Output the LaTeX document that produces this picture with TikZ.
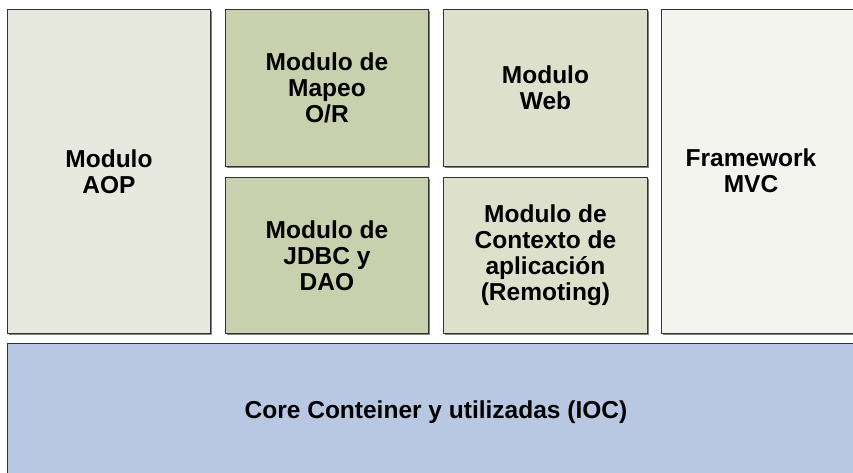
\documentclass[tikz,border=0pt]{standalone}
\usepackage{fontspec}
\setmainfont{Liberation Sans}
\begin{document}
\begin{tikzpicture}[x=1pt,y=-1pt,
  txt/.style={align=center,font=\fontsize{24.5}{26}\selectfont\bfseries,inner sep=0pt},
  blk/.style={txt,draw=black!80,line width=0.9pt}]
\definecolor{cAOP}{HTML}{E8E9DE}
\definecolor{cOR}{HTML}{C9D0AD}
\definecolor{cWeb}{HTML}{DDE0CB}
\definecolor{cMVC}{HTML}{F2F4ED}
\definecolor{cCore}{HTML}{B8C8E2}
\useasboundingbox (0,0) rectangle (853,472);
\clip (0,0) rectangle (853,472);
\fill[white] (0,0) rectangle (853,472);
% shadows
\foreach \a/\b/\c/\d in {7/9/210/333, 225/9/428/166, 225/177/428/333, 443/9/647/166, 443/177/647/333, 661/9/870/333, 7/343/870/490}
  \fill[black!50] (\a+1.5,\b+1.5) rectangle (\c+1.5,\d+1.5);
\node[blk,fill=cAOP,minimum width=203pt,minimum height=324pt,anchor=north west] (aop) at (7,9) {Modulo\\AOP};
\node[blk,fill=cOR,minimum width=203pt,minimum height=157pt,anchor=north west] (or) at (225,9) {Modulo de\\Mapeo\\O/R};
\node[blk,fill=cOR,minimum width=203pt,minimum height=156pt,anchor=north west] (jdbc) at (225,177) {Modulo de\\JDBC y\\DAO};
\node[blk,fill=cWeb,minimum width=204pt,minimum height=157pt,anchor=north west] (web) at (443,9) {Modulo\\Web};
\node[blk,fill=cWeb,minimum width=204pt,minimum height=156pt,anchor=north west] (rem) at (443,177) {Modulo de\\Contexto de\\aplicación\\(Remoting)};
\node[blk,fill=cMVC,minimum width=209pt,minimum height=324pt,anchor=north west] (mvc) at (661,9) {};
\node[txt,anchor=center] (mvct) at (751,171) {Framework\\MVC};
\node[blk,fill=cCore,minimum width=863pt,minimum height=147pt,anchor=north west] (core) at (7,343) {};
\node[txt,anchor=center] (coret) at (436,412) {Core Conteiner y utilizadas (IOC)};
\end{tikzpicture}
\end{document}
